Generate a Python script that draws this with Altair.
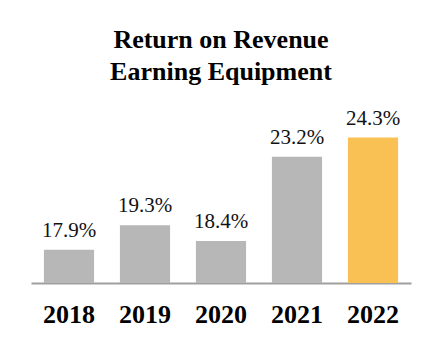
import altair as alt
import pandas as pd

years = ["2018", "2019", "2020", "2021", "2022"]
values = [17.9, 19.3, 18.4, 23.2, 24.3]
labels = ["17.9%", "19.3%", "18.4%", "23.2%", "24.3%"]
colors = ["#b7b7b7", "#b7b7b7", "#b7b7b7", "#b7b7b7", "#f9c153"]

df = pd.DataFrame({"year": years, "value": values, "label": labels, "color": colors})

SERIF = "Liberation Serif"

x = alt.X(
    "year:N",
    sort=years,
    scale=alt.Scale(paddingInner=0.34, paddingOuter=0.17),
    axis=alt.Axis(
        title=None,
        labelAngle=0,
        ticks=False,
        tickSize=0,
        grid=False,
        labelFont=SERIF,
        labelFontSize=26,
        labelFontWeight="bold",
        labelColor="#000000",
        labelPadding=18,
        domainColor="#a0a0a0",
        domainWidth=2,
    ),
)
y = alt.Y("value:Q", scale=alt.Scale(domain=[16, 26.5], zero=False, nice=False), axis=None)

bars = alt.Chart(df).mark_bar().encode(
    x=x, y=y, y2=alt.datum(16), color=alt.Color("color:N", scale=None)
)
text = alt.Chart(df).mark_text(
    font=SERIF, fontSize=21, baseline="alphabetic", dy=-13, color="#111111"
).encode(x=x, y=y, text="label:N")

chart = (
    alt.layer(bars, text)
    .properties(
        width=380,
        height=184,
        view=alt.ViewBackground(strokeWidth=0, stroke="#ffffff"),
        title=alt.TitleParams(
            text=["Return on Revenue", "Earning Equipment"],
            font=SERIF,
            fontSize=26,
            fontWeight="bold",
            color="#000000",
            lineHeight=32,
            anchor="middle",
            offset=14,
        ),
        autosize=alt.AutoSizeParams(type="none"),
        padding={"left": 23, "top": 91, "right": 21, "bottom": 69},
    )
    .configure_view(strokeWidth=0, stroke="#ffffff")
    .configure(background="#ffffff")
)

chart.save("out.html", embed_options={"renderer": "svg", "actions": False})
